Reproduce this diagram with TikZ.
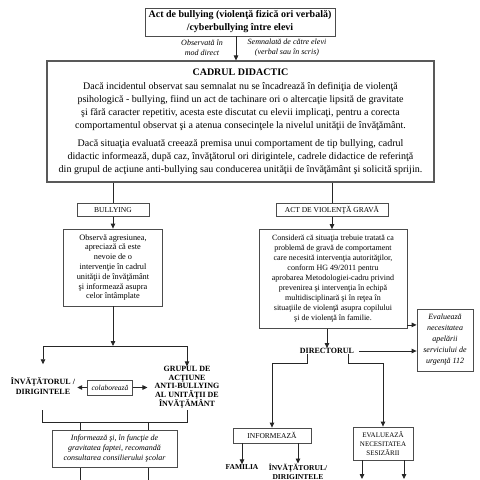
\documentclass[tikz,border=0pt]{standalone}
\usepackage{fontspec}
\setmainfont{Liberation Serif}
\usetikzlibrary{arrows.meta}

\begin{document}
\begin{tikzpicture}[x=1pt,y=1pt]
\tikzstyle{every node}+=[inner sep=0pt, align=center]
\tikzstyle{frame}=[draw=black!70, line width=0.8pt]
\tikzstyle{arr}=[-{Triangle[length=5pt,width=4.5pt]}]
\useasboundingbox (0,0) rectangle (480,-480);
% top of the chart
\node [frame, minimum width=190pt, minimum height=28pt, font=\fontsize{10}{13}\selectfont\bfseries] (act) at (240,-22) {Act de bullying (violenţă fizică ori verbală)\\/cyberbullying între elevi};
\node [font=\fontsize{8}{10}\selectfont\itshape] (seen) at (202,-48) {Observată în\\mod direct};
\node [font=\fontsize{8}{10}\selectfont\itshape] (told) at (287,-48) {Semnalată de către elevi\\(verbal sau în scris)};
\node [frame, draw=black!65, line width=1.1pt, minimum width=387pt, minimum height=121pt, font=\fontsize{10}{13}\selectfont] (cadru) at (240.5,-121.5) {{\bfseries CADRUL DIDACTIC}\\[1pt]
Dacă incidentul observat sau semnalat nu se încadrează în definiţia de violenţă\\
psihologică - bullying, fiind un act de tachinare ori o altercaţie lipsită de gravitate\\
şi fără caracter repetitiv, acesta este discutat cu elevii implicaţi, pentru a corecta\\
comportamentul observat şi a atenua consecinţele la nivelul unităţii de învăţământ.\\[5pt]
Dacă situaţia evaluată creează premisa unui comportament de tip bullying, cadrul\\
didactic informează, după caz, învăţătorul ori dirigintele, cadrele didactice de referinţă\\
din grupul de acţiune anti-bullying sau conducerea unităţii de învăţământ şi solicită sprijin.};
% left branch
\node [frame, minimum width=72pt, minimum height=13pt, font=\fontsize{7.5}{9}\selectfont] (bully) at (113,-210) {BULLYING};
\node [frame, minimum width=99pt, minimum height=77pt, font=\fontsize{8.3}{9.8}\selectfont] (observe) at (113,-267.5) {Observă agresiunea,\\apreciază că este\\nevoie de o\\intervenţie în cadrul\\unităţii de învăţământ\\şi informează asupra\\celor întâmplate};
\node [font=\fontsize{8}{10}\selectfont\bfseries] (teacher) at (43,-386) {ÎNVĂŢĂTORUL /\\DIRIGINTELE};
\node [frame, minimum width=45pt, minimum height=15pt, font=\fontsize{7.5}{9}\selectfont\itshape] (collab) at (110,-387.5) {colaborează};
\node [font=\fontsize{8}{8.4}\selectfont\bfseries] (group) at (187,-387.5) {GRUPUL DE\\ACŢIUNE\\ANTI-BULLYING\\AL UNITĂŢII DE\\ÎNVĂŢĂMÂNT};
\node [frame, minimum width=125pt, minimum height=37pt, font=\fontsize{8}{10}\selectfont\itshape] (advise) at (114.5,-449) {Informează şi, în funcţie de\\gravitatea faptei, recomandă\\consultarea consilierului şcolar};
% right branch
\node [frame, minimum width=112pt, minimum height=13pt, font=\fontsize{7.5}{9}\selectfont] (grave) at (332,-210) {ACT DE VIOLENŢĂ GRAVĂ};
\node [frame, minimum width=148pt, minimum height=99pt, font=\fontsize{8}{10}\selectfont] (consider) at (333,-279) {Consideră că situaţia trebuie tratată ca\\problemă de gravă de comportament\\care necesită intervenţia autorităţilor,\\conform HG 49/2011 pentru\\aprobarea Metodologiei-cadru privind\\prevenirea şi intervenţia în echipă\\multidisciplinară şi în reţea în\\situaţiile de violenţă asupra copilului\\şi de violenţă în familie.};
\node [frame, minimum width=56pt, minimum height=62pt, font=\fontsize{8}{11}\selectfont\itshape] (urgent) at (445,-340) {Evaluează\\necesitatea\\apelării\\serviciului de\\urgenţă 112};
\node [font=\fontsize{8}{10}\selectfont\bfseries] (director) at (327,-351) {DIRECTORUL};
\node [frame, minimum width=78pt, minimum height=15pt, font=\fontsize{7.5}{9}\selectfont] (inform) at (272,-435.5) {INFORMEAZĂ};
\node [font=\fontsize{7.5}{9}\selectfont\bfseries] (family) at (242,-467) {FAMILIA};
\node [font=\fontsize{7.5}{9}\selectfont\bfseries] (teacher2) at (298,-471.5) {ÎNVĂŢĂTORUL/\\DIRIGINTELE};
\node [frame, minimum width=60pt, minimum height=33pt, font=\fontsize{7}{9}\selectfont] (assess) at (383,-443.5) {EVALUEAZĂ\\NECESITATEA\\SESIZĂRII};
\coordinate (split) at (113,-346);
\coordinate (brl) at (42,-422);
\coordinate (brr) at (187,-422);
\coordinate (endl) at (80,-480);
\coordinate (endr) at (148,-480);
\coordinate (enda) at (362,-479);
\coordinate (endb) at (404,-479);
% connectors
\begin{scope}[black!85, line width=0.8pt]
\draw [arr] ([xshift=-4pt]act.south) -- ([xshift=-4pt]act.south |- cadru.north);
\draw (cadru.south -| bully) -- (bully.north);
\draw (cadru.south -| grave) -- (grave.north);
\draw [arr] (bully.south) -- (observe.north);
\draw [arr] (grave.south) -- (grave.south |- consider.north);
\draw [arr] (observe.south) -- (split);
\draw (split -| teacher) -- (split -| group);
\draw [arr, shorten >=13pt] (split -| teacher) -- (teacher.north);
\draw [arr] (split -| group) -- (group.north);
\draw [arr, shorten >=2pt] (collab.west) -- (collab.west -| teacher.east);
\draw [arr, shorten >=7pt] (collab.east) -- (collab.east -| group.west);
\draw ([yshift=12pt]brl) -- (brl) -- (brr) -- ([yshift=12pt]brr);
\draw (brl -| endl) -- (advise.north -| endl);
\draw (brl -| endr) -- (advise.north -| endr);
\draw (advise.south -| endl) -- (endl);
\draw (advise.south -| endr) -- (endr);
\draw [arr] ([yshift=4pt]consider.south east) -- ([yshift=4pt]consider.south east -| urgent.west);
\draw [arr] (director.north |- consider.south) -- (director.north);
\draw [arr] ([xshift=5pt]director.east) -- (director.east -| urgent.west);
\draw [arr] ([xshift=-20pt]director.south) -- ++(0,-10pt) -| (inform.north);
\draw [arr] ([xshift=21pt]director.south) -- ++(0,-10pt) -| (assess.north);
\draw [arr] (inform.south -| family) -- (family.north);
\draw [arr] (inform.south -| teacher2) -- (teacher2.north);
\draw [arr] (assess.south -| enda) -- (enda);
\draw [arr] (assess.south -| endb) -- (endb);
\end{scope}
\end{tikzpicture}
\end{document}
